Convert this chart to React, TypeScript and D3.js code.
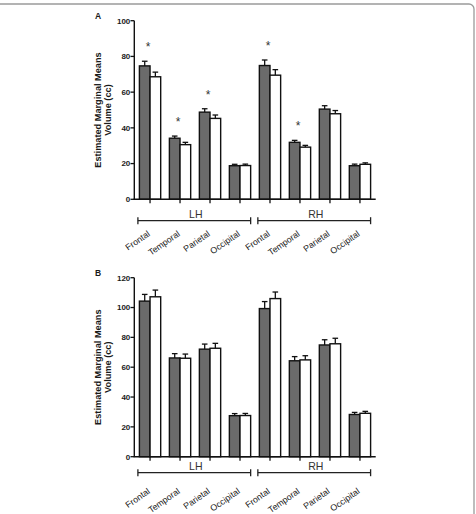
import React from 'react';
import * as d3 from 'd3';

// Regions within each hemisphere
const regions = ['Frontal', 'Temporal', 'Parietal', 'Occipital'];
const hemispheres = ['LH', 'RH'];
const categories = hemispheres.flatMap((h) => regions.map((r) => `${h}-${r}`));
const seriesKeys = ['gray', 'white'];

// Panel A: estimated marginal means (cc) and upper SE
const volAGray = [74.7, 34.2, 48.8, 18.8, 74.9, 31.9, 50.5, 18.8];
const errAGray = [2.6, 1.2, 1.9, 0.8, 3.1, 1.1, 1.9, 0.9];
const volAWhite = [68.6, 30.6, 45.3, 18.9, 69.5, 29.2, 47.9, 19.6];
const errAWhite = [2.6, 1.3, 1.9, 0.8, 3.1, 1.0, 1.8, 0.8];
const sigA = [true, true, true, false, true, true, false, false];
const ticksA = [0, 20, 40, 60, 80, 100];

// Panel B
const volBGray = [104.3, 66.2, 72.1, 27.5, 99.3, 64.3, 74.9, 28.3];
const errBGray = [4.5, 2.9, 3.4, 1.4, 4.7, 2.8, 3.5, 1.4];
const volBWhite = [107.2, 66.0, 72.7, 27.6, 106.0, 64.9, 75.7, 29.1];
const errBWhite = [4.5, 2.8, 3.3, 1.4, 4.4, 2.8, 3.7, 1.3];
const sigB = [false, false, false, false, false, false, false, false];
const ticksB = [0, 20, 40, 60, 80, 100, 120];

const FONT = '"Liberation Sans", Arial, Helvetica, sans-serif';
const W = 476;
const H = 514;
const AXIS_X = 134.3;
const AXIS_END = 375.7;
const BAR_FILL = '#6b6b6b';
const INK = '#1a1a1a';

const x = d3
  .scaleBand<string>()
  .domain(categories)
  .range([AXIS_X, AXIS_END])
  .paddingInner(0.29)
  .paddingOuter(0.17);
const xs = d3.scaleBand<string>().domain(seriesKeys).range([0, x.bandwidth()]);

type PanelProps = {
  label: string;
  top: number;
  bottom: number;
  max: number;
  ticks: number[];
  gray: number[];
  grayErr: number[];
  white: number[];
  whiteErr: number[];
  sig: boolean[];
  bracketGap: number;
};

function Panel(p: PanelProps) {
  const y = d3.scaleLinear().domain([0, p.max]).range([p.bottom, p.top]);
  const bracketY = p.bottom + p.bracketGap;
  const labelY = p.bottom + 35.8;
  const bw = xs.bandwidth();
  const sw = 1.4;

  const bars = categories.flatMap((c, i) => [
    { key: 'gray', c, v: p.gray[i], e: p.grayErr[i], fill: BAR_FILL },
    { key: 'white', c, v: p.white[i], e: p.whiteErr[i], fill: '#ffffff' },
  ]);

  const yTitleCenter = (p.top + p.bottom) / 2;

  return (
    <g>
      <text x={95} y={p.top - 2.2} fontFamily={FONT} fontWeight="bold" fontSize={8.5} fill={INK}>
        {p.label}
      </text>

      {/* y axis title */}
      <g transform={`translate(101,${yTitleCenter}) rotate(-90)`}>
        <text textAnchor="middle" fontFamily={FONT} fontWeight="bold" fontSize={9.2} fill={INK}>
          Estimated Marginal Means
        </text>
        <text y={10} textAnchor="middle" fontFamily={FONT} fontWeight="bold" fontSize={9.2} fill={INK}>
          Volume (cc)
        </text>
      </g>

      {/* bars */}
      {bars.map((b) => {
        const bx = (x(b.c) as number) + (xs(b.key) as number);
        const cx = bx + bw / 2;
        const yTop = y(b.v);
        const yErr = y(b.v + b.e);
        return (
          <g key={`${b.c}-${b.key}`}>
            <line x1={cx} x2={cx} y1={yTop} y2={yErr} stroke="#111" strokeWidth={1.3} />
            <line x1={cx - 2.8} x2={cx + 2.8} y1={yErr} y2={yErr} stroke="#111" strokeWidth={1.3} />
            <rect
              x={bx}
              y={yTop}
              width={bw}
              height={p.bottom - yTop}
              fill={b.fill}
              stroke="#111"
              strokeWidth={sw}
            />
          </g>
        );
      })}

      {/* significance markers */}
      {categories.map((c, i) => {
        if (!p.sig[i]) return null;
        const cx = (x(c) as number) + x.bandwidth() / 2 - 2;
        const capY = y(Math.max(p.gray[i] + p.grayErr[i], p.white[i] + p.whiteErr[i]));
        return (
          <text
            key={`sig-${c}`}
            x={cx}
            y={capY - 17 + 6.8}
            textAnchor="middle"
            fontFamily={FONT}
            fontSize={12}
            fill="#333"
          >
            *
          </text>
        );
      })}

      {/* y axis */}
      <line x1={AXIS_X} x2={AXIS_X} y1={p.top} y2={p.bottom} stroke="#111" strokeWidth={1.4} />
      {p.ticks.map((t) => (
        <g key={`yt-${t}`}>
          <line x1={AXIS_X - 3.8} x2={AXIS_X} y1={y(t)} y2={y(t)} stroke="#111" strokeWidth={1.3} />
          <text
            x={AXIS_X - 4}
            y={y(t) + 2.9}
            textAnchor="end"
            fontFamily={FONT}
            fontWeight="bold"
            fontSize={8}
            fill={INK}
          >
            {t}
          </text>
        </g>
      ))}

      {/* x axis */}
      <line x1={AXIS_X - 0.7} x2={AXIS_END} y1={p.bottom} y2={p.bottom} stroke="#111" strokeWidth={1.4} />
      {categories.map((c) => {
        const cx = (x(c) as number) + x.bandwidth() / 2;
        return (
          <line key={`xt-${c}`} x1={cx} x2={cx} y1={p.bottom} y2={p.bottom + 4} stroke="#111" strokeWidth={1.3} />
        );
      })}

      {/* hemisphere brackets */}
      {hemispheres.map((h) => {
        const members = categories.filter((c) => c.startsWith(h));
        const x0 = (x(members[0]) as number) - 1.5;
        const x1 = (x(members[members.length - 1]) as number) + x.bandwidth();
        return (
          <g key={`br-${h}`}>
            <line x1={x0} x2={x1} y1={bracketY} y2={bracketY} stroke="#222" strokeWidth={1.3} />
            <line x1={x0} x2={x0} y1={bracketY - 3.5} y2={bracketY + 3.5} stroke="#222" strokeWidth={1.3} />
            <line x1={x1} x2={x1} y1={bracketY - 3.5} y2={bracketY + 3.5} stroke="#222" strokeWidth={1.3} />
            <text
              x={(x0 + x1) / 2 + 1.5}
              y={bracketY - 3}
              textAnchor="middle"
              fontFamily={FONT}
              fontSize={10.5}
              fill="#333"
            >
              {h}
            </text>
          </g>
        );
      })}

      {/* region labels */}
      {categories.map((c) => {
        const cx = (x(c) as number) + x.bandwidth() / 2;
        const name = c.split('-')[1];
        return (
          <text
            key={`xl-${c}`}
            transform={`translate(${cx + 0.5},${labelY}) rotate(-35)`}
            textAnchor="end"
            fontFamily={FONT}
            fontSize={8.8}
            fill={INK}
          >
            {name}
          </text>
        );
      })}
    </g>
  );
}

export default function App() {
  return (
    <svg
      width={W}
      height={H}
      viewBox={`0 0 ${W} ${H}`}
      style={{ position: 'absolute', left: 0, top: 0, background: '#fff' }}
    >
      <rect x={-10} y={4} width={484} height={H + 20} rx={5} fill="none" stroke="#9a9a9a" strokeWidth={1.3} />
      <Panel
        label="A"
        top={20.7}
        bottom={199.3}
        max={100}
        ticks={ticksA}
        gray={volAGray}
        grayErr={errAGray}
        white={volAWhite}
        whiteErr={errAWhite}
        sig={sigA}
        bracketGap={21.4}
      />
      <Panel
        label="B"
        top={277.7}
        bottom={456.7}
        max={120}
        ticks={ticksB}
        gray={volBGray}
        grayErr={errBGray}
        white={volBWhite}
        whiteErr={errBWhite}
        sig={sigB}
        bracketGap={16}
      />
    </svg>
  );
}
